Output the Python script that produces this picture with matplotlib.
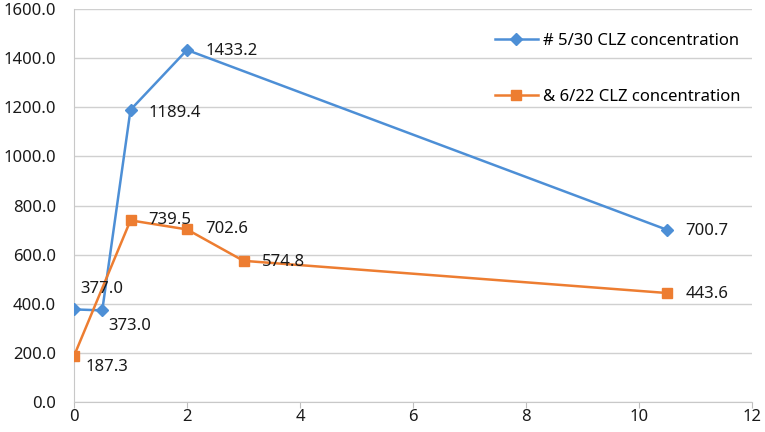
import matplotlib
matplotlib.use("Agg")
import matplotlib.pyplot as plt

plt.rcParams['font.family'] = ['Noto Sans', 'DejaVu Sans']

x_530 = [0, 0.5, 1, 2, 10.5]
y_530 = [377.0, 373.0, 1189.4, 1433.2, 700.7]
x_622 = [0, 1, 2, 3, 10.5]
y_622 = [187.3, 739.5, 702.6, 574.8, 443.6]
label_530 = "# 5/30 CLZ concentration"
label_622 = "& 6/22 CLZ concentration"

# label offsets in points (dx, dy)
off_530 = [(4.5, 15), (4.5, -11), (13, -2), (13, -1), (13, -1)]
off_622 = [(8, -8), (13, 0), (13, 0), (13, -1), (13, -1)]

blue = '#4d8fd6'
orange = '#ed7d31'

fig = plt.figure(figsize=(7.65, 4.32), dpi=100)
ax = fig.add_axes([74 / 765, 1 - 402 / 432, 678 / 765, 393 / 432])

ax.plot(x_530, y_530, color=blue, linewidth=1.8, marker='D', markersize=6, label=label_530, zorder=3)
ax.plot(x_622, y_622, color=orange, linewidth=1.8, marker='s', markersize=7.5, label=label_622, zorder=3)

for xs, ys, offs in [(x_530, y_530, off_530), (x_622, y_622, off_622)]:
    for xv, yv, (dx, dy) in zip(xs, ys, offs):
        ax.annotate(f"{yv:.1f}", (xv, yv), xytext=(dx, dy), textcoords='offset points',
                    fontsize=12, color='#1a1a1a', va='center', ha='left', zorder=4)

ax.set_xlim(0, 12)
ax.set_ylim(0, 1600)
ax.set_xticks(range(0, 13, 2))
ax.set_yticks(range(0, 1601, 200))
ax.set_yticklabels([f"{v:.1f}" for v in range(0, 1601, 200)])
ax.tick_params(axis='y', labelsize=12, colors='#1a1a1a', length=0, pad=13)
ax.tick_params(axis='x', labelsize=12, labelcolor='#1a1a1a', length=4, color='#bfbfbf',
               direction='out', pad=1)
ax.grid(axis='y', color='#d0d0d0', linewidth=1)
ax.grid(axis='x', visible=False)
for s in ['top', 'right']:
    ax.spines[s].set_visible(False)
ax.spines['left'].set_color('#c8c8c8')
ax.spines['bottom'].set_color('#c8c8c8')
ax.set_axisbelow(True)

leg = ax.legend(loc='upper right', bbox_to_anchor=(747 / 765, 1 - 26 / 432),
                bbox_transform=fig.transFigure, frameon=False, fontsize=12,
                labelspacing=2.4, handlelength=2.6, handletextpad=0.3, borderaxespad=0)

fig.savefig("out.png", dpi=100)
